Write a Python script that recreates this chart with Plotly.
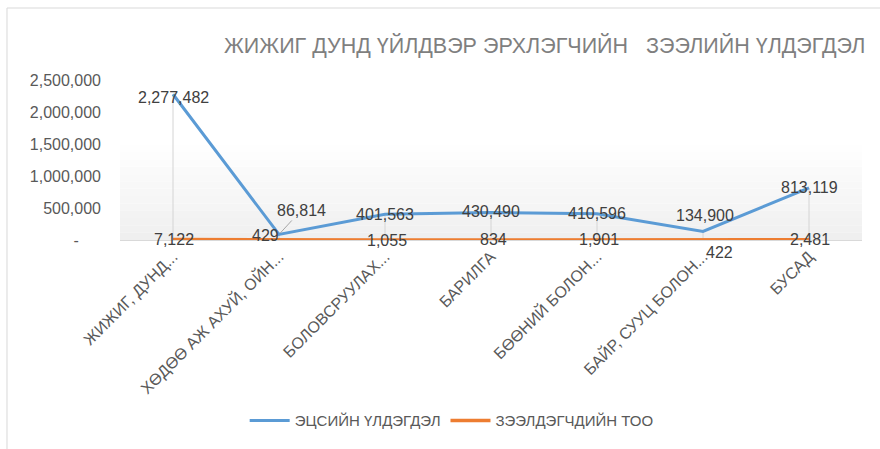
import plotly.graph_objects as go

# data
categories = ["ЖИЖИГ, ДУНД...", "ХӨДӨӨ АЖ АХУЙ, ОЙН...", "БОЛОВСРУУЛАХ...", "БАРИЛГА",
              "БӨӨНИЙ БОЛОН...", "БАЙР, СУУЦ БОЛОН...", "БУСАД"]
balance = [2277482, 86814, 401563, 430490, 410596, 134900, 813119]
borrowers = [7122, 429, 1055, 834, 1901, 422, 2481]
y_ticks = [0, 500000, 1000000, 1500000, 2000000, 2500000]
y_tick_text = ["-\u00a0\u00a0\u00a0\u00a0\u00a0", "500,000", "1,000,000", "1,500,000", "2,000,000", "2,500,000"]

title_text = "ЖИЖИГ ДУНД ҮЙЛДВЭР ЭРХЛЭГЧИЙН\u00a0\u00a0\u00a0ЗЭЭЛИЙН ҮЛДЭГДЭЛ"
name_balance = "ЭЦСИЙН ҮЛДЭГДЭЛ"
name_borrowers = "ЗЭЭЛДЭГЧДИЙН ТОО"

BLUE = "#5B9BD5"
ORANGE = "#ED7D31"
FONT = "Liberation Sans, Arial, sans-serif"

fig = go.Figure()

# high-low lines between the two series
hl_x, hl_y = [], []
for c, lo, hi in zip(categories, borrowers, balance):
    hl_x += [c, c, None]
    hl_y += [lo, hi, None]
fig.add_trace(go.Scatter(x=hl_x, y=hl_y, mode="lines", line=dict(color="#D4D4D4", width=1),
                         showlegend=False, hoverinfo="skip", cliponaxis=False))

fig.add_trace(go.Scatter(x=categories, y=balance, mode="lines", name=name_balance,
                         line=dict(color=BLUE, width=3), cliponaxis=False))
fig.add_trace(go.Scatter(x=categories, y=borrowers, mode="lines", name=name_borrowers,
                         line=dict(color=ORANGE, width=3.5), cliponaxis=False))

# data labels (offsets in pixels, like Excel's manual label placement)
blue_shift = [(0, -3), None, (0, 0), (0, 1), (0, 0), (2, 16), (0, 0)]
orange_shift = [(1, 0), (-14, 4), (2, -1), (2, 0), (2, 0), (16, -13), (1, 0)]
lab_font = dict(family=FONT, size=16, color="#404040")
for c, v, s in zip(categories, balance, blue_shift):
    if s is None:
        fig.add_annotation(x=c, y=v, text=f"{v:,}", showarrow=True, arrowhead=0,
                           arrowcolor="#A6A6A6", arrowwidth=1, ax=22, ay=-24,
                           standoff=2, font=lab_font)
    else:
        fig.add_annotation(x=c, y=v, text=f"{v:,}", showarrow=False,
                           xshift=s[0], yshift=s[1], font=lab_font)
for c, v, s in zip(categories, borrowers, orange_shift):
    fig.add_annotation(x=c, y=v, text=f"{v:,}", showarrow=False,
                       xshift=s[0], yshift=s[1], font=lab_font)

# plot-area gradient (white -> light grey) and chart-area border
shapes = []
n = 14
top = 0.64
for i in range(n):
    g = int(round(239 + (255 - 239) * (i / (n - 1)) ** 0.9))
    shapes.append(dict(type="rect", xref="paper", yref="paper", x0=0, x1=1,
                       y0=top * i / n, y1=top * (i + 1) / n, layer="below",
                       line=dict(width=0), fillcolor=f"rgb({g},{g},{g})"))
shapes.append(dict(type="line", xref="paper", yref="paper", x0=-0.1523, x1=-0.1523,
                   y0=1.45, y1=-1.4, line=dict(color="#D9D9D9", width=1)))
shapes.append(dict(type="line", xref="paper", yref="paper", x0=-0.1523, x1=1.1,
                   y0=1.45, y1=1.45, line=dict(color="#D9D9D9", width=1)))

fig.update_layout(
    width=880, height=449,
    margin=dict(l=120, r=18, t=80, b=209, autoexpand=False),
    paper_bgcolor="white", plot_bgcolor="white",
    font=dict(family=FONT, size=16, color="#595959"),
    title=dict(text=title_text, x=224 / 880, xanchor="left", xref="container",
               y=1 - 45 / 449, yanchor="middle", yref="container",
               font=dict(family=FONT, size=21.5, color="#7F7F7F")),
    shapes=shapes,
    showlegend=True,
    legend=dict(orientation="h", x=0.447, xanchor="center", y=-1.13, yanchor="middle",
                font=dict(family=FONT, size=15, color="#595959"), itemwidth=40,
                bgcolor="rgba(0,0,0,0)"),
    hovermode=False,
)
fig.update_xaxes(type="category", range=[-0.5, len(categories) - 0.5], tickangle=-45,
                 ticks="", showgrid=False, zeroline=False,
                 showline=True, linecolor="#D9D9D9", linewidth=1, automargin=False,
                 layer="below traces",
                 tickfont=dict(family=FONT, size=16, color="#595959"))
fig.update_yaxes(range=[0, 2500000], tickvals=y_ticks, ticktext=y_tick_text, ticks="",
                 showgrid=False, zeroline=False, showline=False, ticklabelstandoff=18,
                 automargin=False,
                 tickfont=dict(family=FONT, size=16, color="#595959"))

# drop the browser's default page margin so the figure sits at the window's corner
fig.write_html("out.html", config={"displayModeBar": False},
               post_script="document.body.style.margin='0';")
